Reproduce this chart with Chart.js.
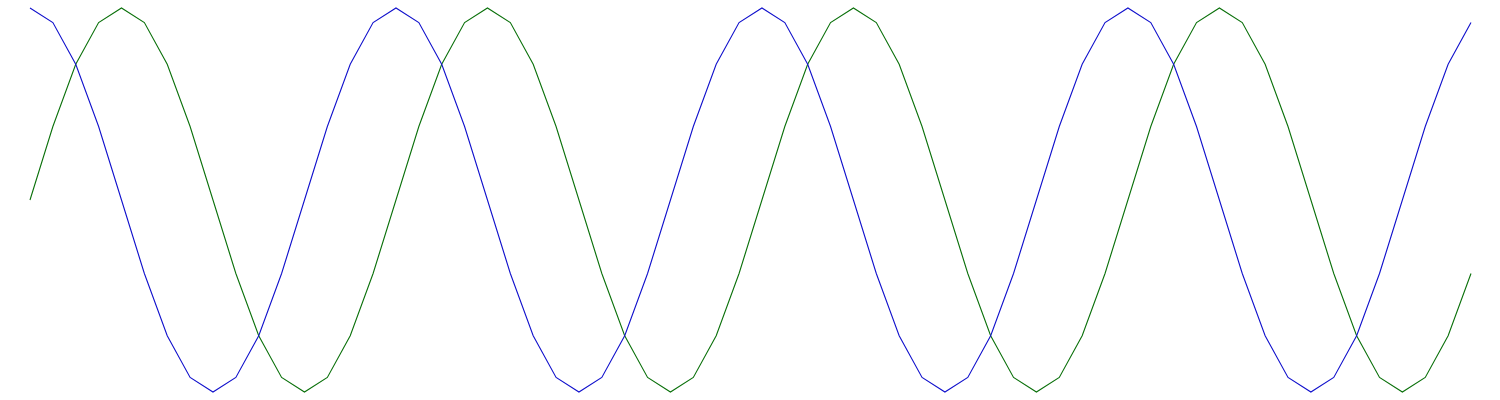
<!DOCTYPE html>
<html>
<head>
<meta charset="utf-8">
<script src="https://cdn.jsdelivr.net/npm/chart.js@4/dist/chart.umd.min.js"></script>
<style>
  html, body { margin: 0; padding: 0; background: #fff; }
  #wrap { width: 1500px; height: 400px; }
</style>
</head>
<body>
<div id="wrap"><canvas id="myChart" width="1500" height="400"></canvas></div>
<script>
// x positions (sample index)
const steps = [
  0, 1, 2, 3, 4, 5, 6, 7, 8, 9, 10, 11, 12, 13, 14, 15,
  16, 17, 18, 19, 20, 21, 22, 23, 24, 25, 26, 27, 28, 29, 30, 31,
  32, 33, 34, 35, 36, 37, 38, 39, 40, 41, 42, 43, 44, 45, 46, 47,
  48, 49, 50, 51, 52, 53, 54, 55, 56, 57, 58, 59, 60, 61, 62, 63
];

// blue line
const blueValues = [
  1, 0.924, 0.707, 0.383, 0, -0.383, -0.707, -0.924, -1, -0.924, -0.707, -0.383, 0, 0.383, 0.707, 0.924,
  1, 0.924, 0.707, 0.383, 0, -0.383, -0.707, -0.924, -1, -0.924, -0.707, -0.383, 0, 0.383, 0.707, 0.924,
  1, 0.924, 0.707, 0.383, 0, -0.383, -0.707, -0.924, -1, -0.924, -0.707, -0.383, 0, 0.383, 0.707, 0.924,
  1, 0.924, 0.707, 0.383, 0, -0.383, -0.707, -0.924, -1, -0.924, -0.707, -0.383, 0, 0.383, 0.707, 0.924
];

// green line
const greenValues = [
  0, 0.383, 0.707, 0.924, 1, 0.924, 0.707, 0.383, 0, -0.383, -0.707, -0.924, -1, -0.924, -0.707, -0.383,
  0, 0.383, 0.707, 0.924, 1, 0.924, 0.707, 0.383, 0, -0.383, -0.707, -0.924, -1, -0.924, -0.707, -0.383,
  0, 0.383, 0.707, 0.924, 1, 0.924, 0.707, 0.383, 0, -0.383, -0.707, -0.924, -1, -0.924, -0.707, -0.383,
  0, 0.383, 0.707, 0.924, 1, 0.924, 0.707, 0.383, 0, -0.383, -0.707, -0.924, -1, -0.924, -0.707, -0.383
];

const yMin = -1;
const yMax = 1;

var ctx = document.getElementById('myChart').getContext('2d');
const chart = new Chart(ctx, {
  type: 'line',
  data: {
    labels: steps,
    datasets: [
      {
        label: 'blue',
        data: blueValues,
        borderColor: '#1010cc',
        borderWidth: 1.1,
        pointRadius: 0,
        tension: 0,
        fill: false,
        clip: false
      },
      {
        label: 'green',
        data: greenValues,
        borderColor: '#0a700a',
        borderWidth: 1.1,
        pointRadius: 0,
        tension: 0,
        fill: false,
        clip: false
      }
    ]
  },
  options: {
    responsive: false,
    animation: false,
    layout: { padding: { left: 30, right: 29, top: 8, bottom: 8 } },
    plugins: {
      legend: { display: false },
      tooltip: { enabled: false }
    },
    scales: {
      x: { display: false, offset: false },
      y: { display: false, min: yMin, max: yMax }
    }
  }
});
</script>
</body>
</html>
